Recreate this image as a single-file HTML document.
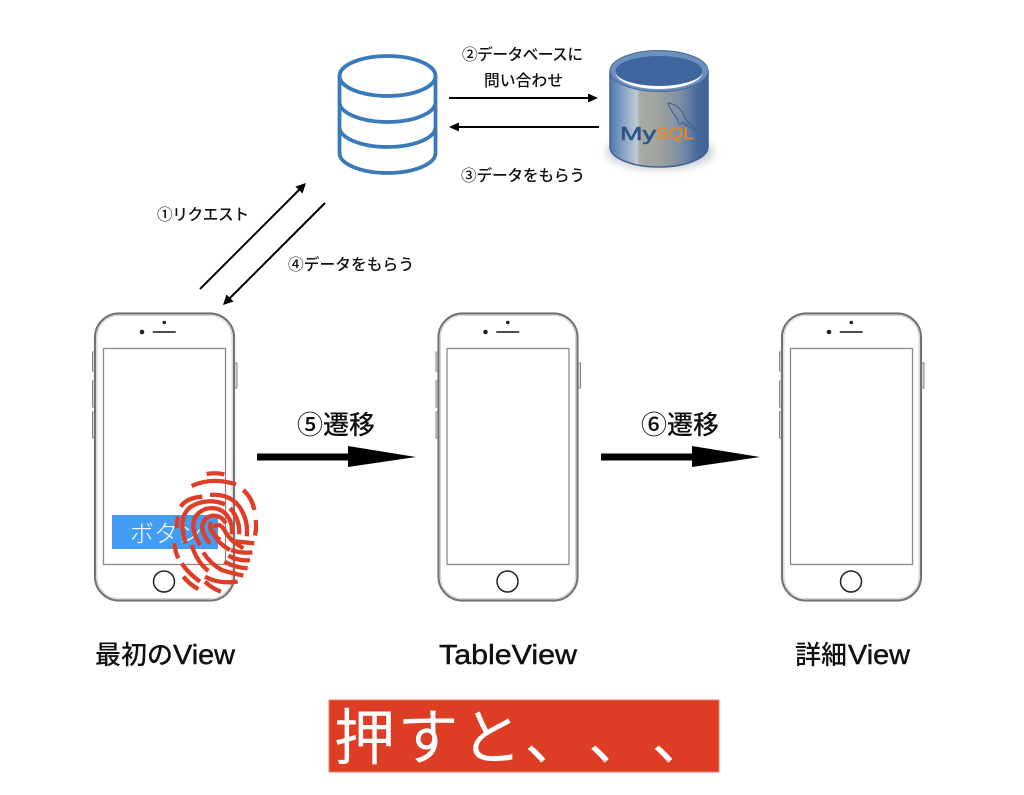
<!DOCTYPE html>
<html><head><meta charset="utf-8"><style>
html,body{margin:0;padding:0;background:#fff}
svg{display:block}
text{font-family:"Liberation Sans","Noto Sans CJK JP",sans-serif;fill:#111}
.s{font-size:15.700px;font-weight:500}
.m{font-size:26px;font-weight:500}
.l{font-size:27.500px;stroke:#111;stroke-width:.45px}
</style></head><body>
<svg width="1024" height="795" viewBox="0 0 1024 795" xmlns="http://www.w3.org/2000/svg">
<defs>
<linearGradient id="cyl" x1="0" x2="1" y1="0" y2="0">
<stop offset="0" stop-color="#4f78ad"/><stop offset=".12" stop-color="#7f9fc3"/><stop offset=".28" stop-color="#c0cbd4"/><stop offset=".3" stop-color="#a9aca6"/><stop offset=".5" stop-color="#a0a39f"/><stop offset=".72" stop-color="#7c8ea6"/><stop offset=".9" stop-color="#47689c"/><stop offset="1" stop-color="#3f639b"/>
</linearGradient>
<filter id="blur" x="-20%" y="-50%" width="140%" height="200%"><feGaussianBlur stdDeviation="4"/></filter>
<g id="phone">
<rect x="92.500" y="352" width="3" height="19" fill="#ddd" stroke="#888"/>
<rect x="92.500" y="381" width="3" height="26" fill="#ddd" stroke="#888"/>
<rect x="92.500" y="412" width="3" height="26" fill="#ddd" stroke="#888"/>
<rect x="234" y="363" width="3" height="25" fill="#ddd" stroke="#888"/>
<rect x="95" y="313.500" width="139" height="287" rx="24" fill="#fff" stroke="#747474" stroke-width="2.200"/>
<rect x="97" y="315.500" width="135" height="283" rx="22" fill="none" stroke="#d4d4d4" stroke-width="1"/>
<rect x="103.500" y="348.500" width="122" height="216" fill="#fff" stroke="#8a8a8a" stroke-width="1.300"/>
<circle cx="164" cy="581.500" r="10.500" fill="#fff" stroke="#222" stroke-width="1.500"/>
<circle cx="164.300" cy="322.500" r="1.800" fill="#222"/>
<circle cx="142" cy="332" r="2.300" fill="#222"/>
<line x1="153.500" y1="332" x2="175" y2="332" stroke="#333" stroke-width="1.800" stroke-linecap="round"/>
</g>
</defs>

<!-- database icon -->
<g fill="none" stroke="#3a7ab8" stroke-width="3.800">
<ellipse cx="387.500" cy="76" rx="48" ry="20"/>
<path d="M339.500 76V153C339.500 164 361 173 387.500 173S435.500 164 435.500 153V76"/>
<path d="M339.500 102C339.500 113 361 122 387.500 122S435.500 113 435.500 102"/>
<path d="M339.500 127C339.500 138 361 147 387.500 147S435.500 138 435.500 127"/>
</g>

<!-- MySQL cylinder -->
<ellipse cx="660" cy="152" rx="54" ry="18" fill="#cfd3d8" filter="url(#blur)"/>
<path d="M610 71V147C610 158 632 167 659 167S708 158 708 147V71Z" fill="url(#cyl)" stroke="#3f6396" stroke-width="1.500"/>
<ellipse cx="659" cy="71" rx="49" ry="20.500" fill="#6c90bd" stroke="#44689c" stroke-width="1"/>
<path d="M615 71C615 82 636 89 659 89S703 82 703 71C703 80 682 85.500 659 85.500S615 80 615 71Z" fill="#fff"/>
<ellipse cx="659" cy="71" rx="43.500" ry="15" fill="#3f659f"/>
<path d="M668 103C676 104 683 110 685 118C688 124 695 126 696 131C692 127 686 127 683 122C680 126 678 124 678 120C675 115 670 110 668 103Z" fill="none" stroke="#39608f" stroke-width="1"/>
<text x="620" y="140" style="font-size:18px;fill:#2f5488;stroke:#2f5488;stroke-width:.5px;font-family:'Liberation Sans',sans-serif" textLength="36" lengthAdjust="spacingAndGlyphs">My</text>
<text x="656" y="139" style="font-size:17px;fill:#e08a2c;stroke:#e08a2c;stroke-width:.4px;font-family:'Liberation Sans',sans-serif" textLength="38" lengthAdjust="spacingAndGlyphs">SQL</text>

<!-- thin arrows -->
<g stroke="#000" stroke-width="2" fill="#000">
<line x1="449" y1="98" x2="590" y2="98"/><path d="M598 98L588 93.500V102.500Z" stroke="none"/>
<line x1="599" y1="127" x2="458" y2="127"/><path d="M449 127L459 122.500V131.500Z" stroke="none"/>
<line x1="200" y1="289" x2="299" y2="190"/><path d="M306 183L295.500 186.500L302.500 193.500Z" stroke="none"/>
<line x1="325" y1="203" x2="230" y2="298"/><path d="M223 305L226.500 294.500L233.500 301.500Z" stroke="none"/>
</g>

<!-- labels -->
<text class="s" x="462" y="60" textLength="121">②データベースに</text>
<text class="s" x="484" y="86" textLength="79">問い合わせ</text>
<text class="s" x="461" y="181" textLength="124">③データをもらう</text>
<text class="s" x="157" y="220" textLength="92">①リクエスト</text>
<text class="s" x="288" y="270" textLength="126">④データをもらう</text>

<!-- phones -->
<use href="#phone"/>
<use href="#phone" x="343.500"/>
<use href="#phone" x="687"/>

<!-- button -->
<rect x="112" y="515" width="106" height="34" fill="#429ef5"/>
<text x="130" y="542" style="font-size:24px;fill:#fff;font-weight:300">ボタン</text>

<!-- fingerprint -->
<g transform="translate(165 465) scale(.3333)" fill="none" stroke="#de3d27" stroke-width="13">
<path d="M125 27Q150 22 178 28"/>
<path d="M80 63Q140 35 213 58"/>
<path d="M235 75Q262 100 268 135"/>
<path d="M272 165Q275 190 270 212"/>
<path d="M47 125Q65 98 112 95"/>
<path d="M135 90C180 85 215 105 232 140C245 165 248 190 245 214"/>
<path d="M36 190Q34 170 40 155"/>
<path d="M62 235C45 180 50 145 78 125C110 105 150 105 180 118"/>
<path d="M195 130C215 150 225 180 222 208"/>
<path d="M105 240C80 200 78 165 100 145C125 122 165 125 185 150C200 170 203 190 200 208"/>
<path d="M135 236C110 205 105 180 122 162C140 145 170 150 182 175"/>
<path d="M165 225C140 205 128 185 140 172"/>
<path d="M148 190C152 172 170 180 178 195C190 220 210 235 235 250"/>
<path d="M143 195C150 225 170 240 195 255"/>
<path d="M200 228L268 235"/>
<path d="M198 255Q230 266 262 262"/>
<path d="M190 272Q225 290 255 285"/>
<path d="M178 290Q210 308 248 310"/>
<path d="M115 262Q135 295 170 315Q200 325 235 332"/>
<path d="M80 240Q95 290 130 318"/>
<path d="M120 335Q160 358 218 350"/>
<path d="M28 235Q30 260 40 280"/>
<path d="M50 295Q70 325 105 350"/>
<path d="M55 335Q75 360 100 372"/>
<path d="M120 350Q140 370 168 380"/>
</g>

<!-- thick arrows -->
<g fill="#000">
<rect x="257" y="453.500" width="95" height="7"/><path d="M348 446L416 457L348 467Z"/>
<rect x="601" y="453.500" width="95" height="7"/><path d="M692 446L760 457L692 467Z"/>
</g>
<text class="m" x="297" y="434">⑤遷移</text>
<text class="m" x="641" y="434">⑥遷移</text>

<text class="m" x="95" y="664">最初の</text>
<text class="l" x="173" y="664" textLength="62" lengthAdjust="spacingAndGlyphs">View</text>
<text class="l" x="439" y="664" textLength="138" lengthAdjust="spacingAndGlyphs">TableView</text>
<text class="m" x="795" y="664">詳細</text>
<text class="l" x="848" y="664" textLength="62" lengthAdjust="spacingAndGlyphs">View</text>

<!-- red banner -->
<rect x="329" y="700" width="390" height="72" fill="#dd3c25" stroke="#ea7c6c" stroke-width="1"/>
<text x="334 397.500 461 524.500 588 651.500" y="759" style="font-size:61px;fill:#fff;font-weight:400">押すと、、、</text>
</svg>
</body></html>
